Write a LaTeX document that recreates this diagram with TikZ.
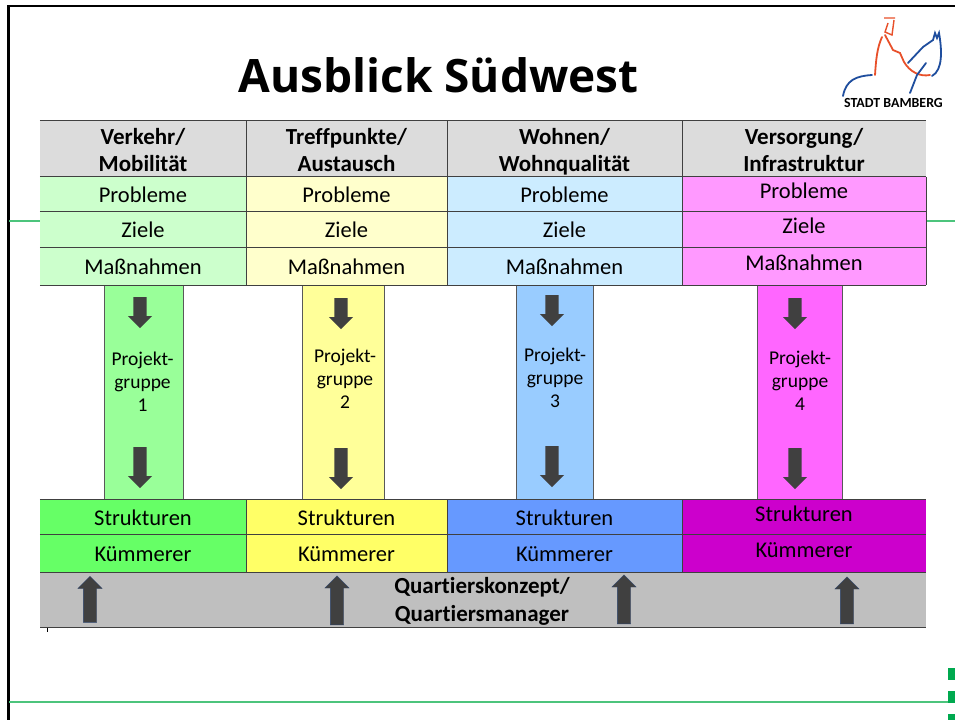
\documentclass[tikz,border=0pt]{standalone}
\usepackage{fontspec}
\setmainfont[Ligatures=NoCommon]{Carlito}
\newfontfamily\titelfont{Open Sans}
\usetikzlibrary{shapes.arrows}
\definecolor{kopf}{HTML}{DCDCDC}
\definecolor{grau}{HTML}{BFBFBF}
\definecolor{pfeil}{HTML}{404040}
\definecolor{linie}{HTML}{4CC47C}
\definecolor{quadrat}{HTML}{00A94F}
\definecolor{logoblau}{HTML}{1F4E9E}
\definecolor{logorot}{HTML}{E8502A}
\newcommand{\hebe}[2]{\raisebox{#1pt}[0pt][0pt]{#2}}
\tikzset{
	zelle/.style={font=\fontsize{22.5}{25}\selectfont,inner sep=0pt,text height=16.5pt,text depth=1.5pt},
	kopfzelle/.style={fill=kopf,font=\fontsize{23}{27}\selectfont\bfseries,inner sep=0pt,align=center},
	balken/.style={draw=black!65,line width=0.8pt},
	gruppe/.style={font=\fontsize{19.5}{23}\selectfont,align=center,inner sep=0pt},
	runter/.style={single arrow,fill=pfeil,inner sep=6.5pt,single arrow head extend=5.5pt,shape border rotate=270,anchor=tail},
	hoch/.style={single arrow,fill=pfeil,inner sep=6.5pt,single arrow head extend=5.5pt,shape border rotate=90,anchor=tail,draw=logoblau!50!pfeil,line width=0.4pt},
	regel/.style={draw=black!75,line width=0.8pt},
}
\begin{document}
\begin{tikzpicture}[x=1pt,y=-1pt]
	\useasboundingbox (0,0) rectangle (955,720);
	\fill[white] (0,0) rectangle (955,720);
	% Folienrahmen
	\draw[line width=2.6pt] (955,6) -- (8.5,6) -- (8.5,720);
	\draw[linie,line width=1.2pt] (9,221) -- (40,221);
	\draw[linie,line width=1.2pt] (926,221) -- (955,221);
	\draw[linie,line width=1.2pt] (9,702) -- (955,702);
	\fill[quadrat] (948,668) rectangle (955,680);
	\fill[quadrat] (948,691) rectangle (955,703);
	\fill[quadrat] (948,714) rectangle (955,720);
	\draw[line width=0.8pt] (47,627) -- (47,632);
	% Titel
	\node[font=\fontsize{46}{56}\selectfont\titelfont\bfseries,inner sep=0pt] (titel) at (438.5,75) {Ausblick Südwest};
	% Logo
	\draw[logoblau,line width=1.8pt,line cap=round] (843,96) .. controls (846,80) and (856,76) .. (872,75);
	\draw[logorot,line width=1.8pt,line cap=round] (875,75) .. controls (876,60) and (877,48) .. (882,37);
	\draw[logorot,line width=1.8pt,line cap=round] (885,35) -- (893,50) -- (900,53) -- (904,62) .. controls (910,72) and (920,77) .. (930,75);
	\draw[logorot,line width=1.4pt] (884,18) -- (895,18) (888,23) -- (885,32) -- (892,35) -- (894,20);
	\draw[logoblau,line width=1.8pt,line cap=round] (908,63) -- (923,47) -- (933,40) -- (935,33) -- (937,38) -- (939,33) .. controls (942,50) and (943,70) .. (932,76);
	\draw[logoblau,line width=1.8pt,line cap=round] (926,63) -- (917,75) -- (910,93);
	\node[font=\fontsize{13.9}{15}\selectfont\bfseries,inner sep=0pt] (stadt) at (893.5,103) {STADT BAMBERG};
	% Projektgruppen
	\foreach \n/\l/\r/\f in {1/104/183/99FF99,2/302/384/FFFF99,3/516/593/99CCFF,4/757/842/FF66FF}{
		\definecolor{mittel}{HTML}{\f}
		\draw[balken,fill=mittel] (\l,285) rectangle (\r,499);
	}
	\foreach \n/\x/\y in {1/142.5/382,2/345/379,3/555/378,4/800/381}
		\node[gruppe] (gruppe\n) at (\x,\y) {Projekt-\\gruppe\\\n};
	\foreach \n/\x/\y in {1/140/297,2/341/298,3/552/295,4/795/298}
		\node[runter,minimum height=31] (oben\n) at (\x,\y) {};
	\foreach \n/\x/\y in {1/140/447,2/341/448,3/552/446,4/795/448}
		\node[runter,minimum height=41] (unten\n) at (\x,\y) {};
	% Tabelle oben
	\foreach \n/\x/\w/\a/\b in {1/143/206/Verkehr/Mobilität,2/346.5/201/Treffpunkte/Austausch,3/564.5/235/Wohnen/Wohnqualität,4/804/244/Versorgung/Infrastruktur}
		\node[kopfzelle,minimum width=\w,minimum height=56] (kopf\n) at (\x,149) {\strut\hebe{-3.5}{\a/}\\\strut\hebe{-3.5}{\b}};
	\foreach \n/\x/\w/\f/\d in {1/143/206/CCFFCC/0,2/346.5/201/FFFFCC/0,3/564.5/235/CCECFF/0,4/804/244/FF99FF/4}{
		\definecolor{hell}{HTML}{\f}
		\node[zelle,fill=hell,minimum width=\w,minimum height=35.5] (problem\n) at (\x,194.7) {\hebe{\d}{Probleme}};
		\node[zelle,fill=hell,minimum width=\w,minimum height=36] (ziel\n) at (\x,230) {\hebe{\d}{Ziele}};
		\node[zelle,fill=hell,minimum width=\w,minimum height=37] (mass\n) at (\x,266.5) {\hebe{\d}{Maßnahmen}};
	}
	% Tabelle unten
	\foreach \n/\x/\w/\f/\d in {1/143/206/66FF66/0,2/346.5/201/FFFF66/0,3/564.5/235/6699FF/0,4/804/244/CC00CC/4}{
		\definecolor{satt}{HTML}{\f}
		\node[zelle,fill=satt,minimum width=\w,minimum height=36] (struktur\n) at (\x,517.5) {\hebe{\d}{Strukturen}};
		\node[zelle,fill=satt,minimum width=\w,minimum height=37] (kuemmerer\n) at (\x,553.5) {\hebe{\d}{Kümmerer}};
	}
	% Linien der Tabelle
	\foreach \a/\b in {kopf/problem,problem/ziel,ziel/mass}
		\draw[regel] (\b1.north west) -- (\b4.north east);
	\draw[regel] (kopf1.north west) -- (kopf4.north east);
	\draw[regel] (mass1.south west) -- (mass4.south east);
	\draw[regel] (struktur1.north west) -- (struktur4.north east);
	\draw[regel] (kuemmerer1.north west) -- (kuemmerer4.north east);
	\foreach \n in {1,2,3}{
		\draw[regel] (kopf\n.north east) -- (mass\n.south east);
		\draw[regel] (struktur\n.north east) -- (kuemmerer\n.south east);
	}
	\draw[regel] (problem4.north east) -- (mass4.south east);
	% Quartier
	\fill[grau] (40,572) rectangle (926,627);
	\draw[regel] (40,572) -- (926,572);
	\draw[regel,line width=1pt] (40,627) -- (926,627);
	\node[font=\fontsize{23}{28}\selectfont\bfseries,align=center,inner sep=0pt] (quartier) at (482,602) {\strut Quartierskonzept/\\\strut Quartiersmanager};
	\foreach \n/\x/\y/\h in {1/90/622.5/46,2/337/625/49,3/624/624/49,4/847/624/47}
		\node[hoch,minimum height=\h] (hoch\n) at (\x,\y) {};
\end{tikzpicture}
\end{document}
